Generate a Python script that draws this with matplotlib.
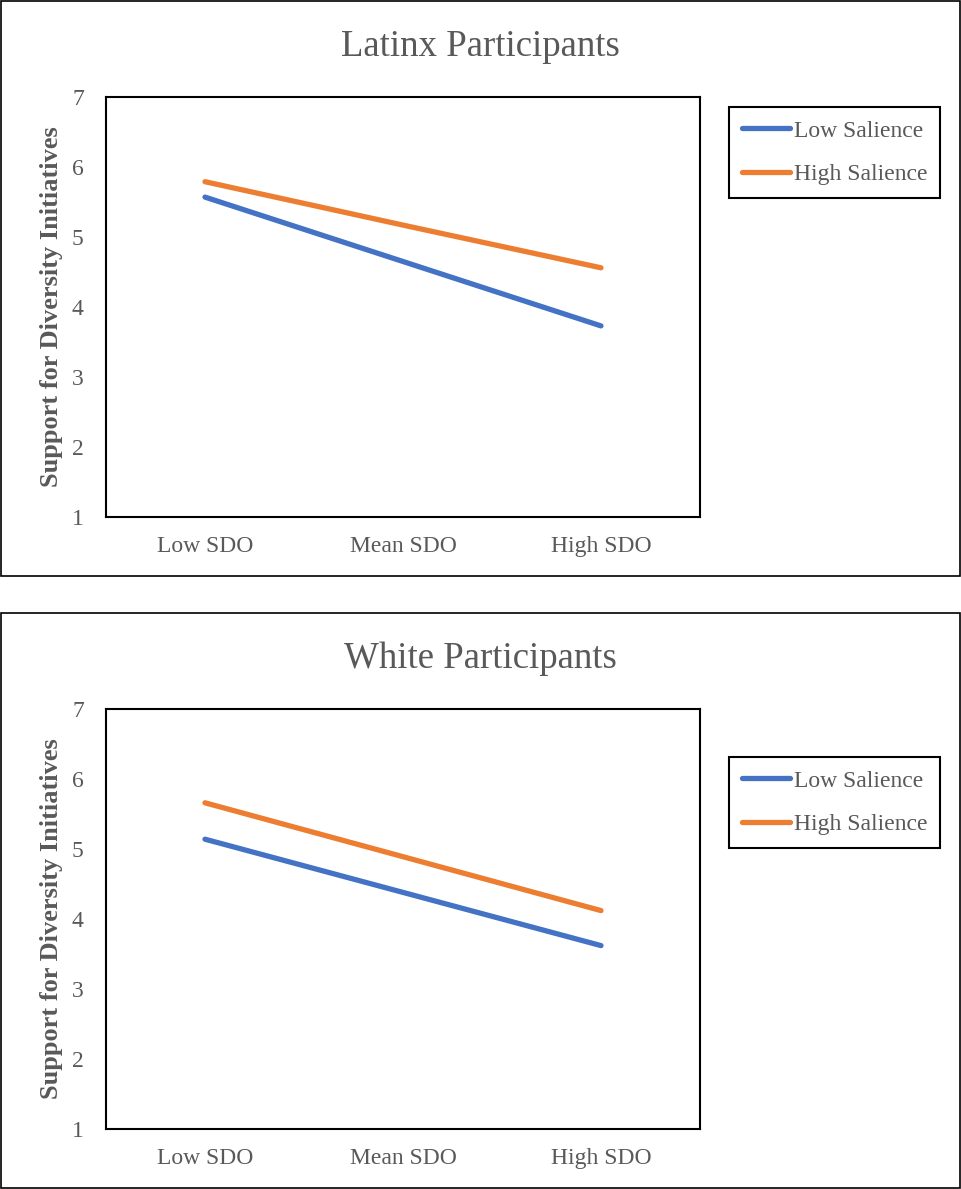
import matplotlib
matplotlib.use("Agg")
import matplotlib.pyplot as plt
from matplotlib.patches import Rectangle

niveles_sdo = ["Low SDO", "Mean SDO", "High SDO"]
latinx_baja = [5.57, 4.65, 3.73]
latinx_alta = [5.79, 5.17, 4.56]
white_baja = [5.14, 4.38, 3.62]
white_alta = [5.66, 4.89, 4.12]
ticks_y = [1, 2, 3, 4, 5, 6, 7]

AZUL = "#4472C4"
NARANJA = "#ED7D31"
GRIS = "#595959"
W, H = 961, 1189

plt.rcParams["font.family"] = ["Liberation Serif", "DejaVu Serif"]


def _rect(izq, arriba, der, abajo):
    return [izq / W, 1 - abajo / H, (der - izq) / W, (abajo - arriba) / H]


def _panel(fig, y0, titulo, baja, alta, leyenda_y):
    # marco del gráfico
    fig.patches.append(Rectangle((0.6 / W, 1 - (y0 + 576) / H), 959.5 / W, 575 / H,
                                 transform=fig.transFigure, fill=False,
                                 edgecolor="black", linewidth=1.2))
    fig.text(480 / W, 1 - (y0 + 56) / H, titulo, ha="center", va="baseline",
             fontsize=26.5, color=GRIS)

    ax = fig.add_axes(_rect(106, y0 + 97, 700, y0 + 517))
    x = range(len(niveles_sdo))
    ax.plot(x, baja, color=AZUL, linewidth=3.8, solid_capstyle="round", label="Low Salience")
    ax.plot(x, alta, color=NARANJA, linewidth=3.8, solid_capstyle="round", label="High Salience")
    ax.set_xlim(-0.5, 2.5)
    ax.set_ylim(1, 7)
    ax.set_yticks(ticks_y)
    ax.set_xticks(list(x))
    ax.set_xticklabels(niveles_sdo)
    ax.tick_params(length=0, labelsize=17, labelcolor=GRIS)
    ax.tick_params(axis="y", pad=16)
    ax.tick_params(axis="x", pad=14)
    for sp in ax.spines.values():
        sp.set_color("black")
        sp.set_linewidth(1.5)

    fig.text(52 / W, 1 - (y0 + 307) / H, "Support for Diversity Initiatives",
             rotation=90, ha="center", va="center", fontsize=19,
             fontweight="bold", color=GRIS)

    ax.legend(loc="upper left", bbox_to_anchor=(729 / W, 1 - (y0 + leyenda_y) / H),
              bbox_transform=fig.transFigure, borderaxespad=0, fontsize=17,
              labelcolor=GRIS, handlelength=2.05, handletextpad=0.15,
              borderpad=0.55, labelspacing=0.95, fancybox=False, framealpha=1,
              edgecolor="black")
    ax.get_legend().get_frame().set_linewidth(1.5)
    return ax


fig = plt.figure(figsize=(W / 100, H / 100), dpi=100)
_panel(fig, 0, "Latinx Participants", latinx_baja, latinx_alta, 107)
_panel(fig, 612, "White Participants", white_baja, white_alta, 145)
fig.savefig("out.png", dpi=100, facecolor="white")
